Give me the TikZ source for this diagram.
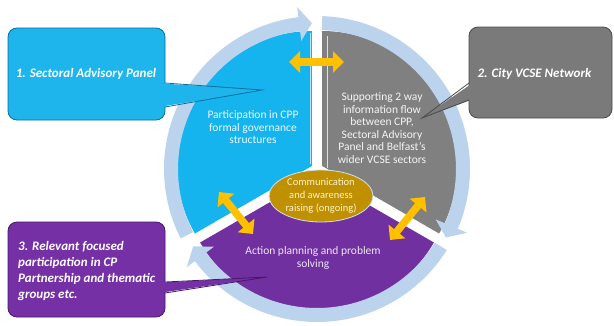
\documentclass[tikz,border=0pt]{standalone}
\usepackage{fontspec}
\setmainfont{Carlito}
\usetikzlibrary{shapes.geometric,arrows.meta}
\definecolor{ringblue}{HTML}{BCD3EE}
\definecolor{segblue}{HTML}{16B4EE}
\definecolor{seggray}{HTML}{808080}
\definecolor{segpurple}{HTML}{7030A0}
\definecolor{gold}{HTML}{BF9000}
\definecolor{yel}{HTML}{FFC000}
\definecolor{cream}{HTML}{FFF2CC}
\definecolor{cblue}{HTML}{1DB5EC}
\definecolor{cblueb}{HTML}{0C6E9C}
\definecolor{cgray}{HTML}{7A7A7A}
\definecolor{cgrayb}{HTML}{4A4A4A}
\definecolor{cpurp}{HTML}{7530A5}
\definecolor{cpurpb}{HTML}{45186A}
\newcommand\myringarrow[3]{%
  \fill[ringblue] plot[domain=#1:#2,samples=60] ({317+153*cos(\x)},{169-153*sin(\x)})
    -- ({317+163*cos(#2)},{169-163*sin(#2)})
    -- ({317+146*cos(#3)},{169-146*sin(#3)})
    -- ({317+129*cos(#2)},{169-129*sin(#2)})
    -- plot[domain=#2:#1,samples=60] ({317+139*cos(\x)},{169-139*sin(\x)}) -- cycle;}
\begin{document}
\begin{tikzpicture}[x=1pt,y=-1pt,
  segtext/.style={align=center,font=\fontsize{11.5}{12.5}\selectfont,inner sep=0pt},
  callbox/.style={rounded corners=9pt,line width=0.8pt,inner sep=0pt},
  calltext/.style={text=white,font=\fontsize{13}{16}\selectfont\bfseries\itshape,inner sep=0pt},
  yarrow/.style={draw=yel,line width=7.5pt,{Triangle[width=21pt,length=11pt]}-{Triangle[width=21pt,length=11pt]}}]
\useasboundingbox (0,0) rectangle (614,325);
% pie segments
\fill[segblue] (311.8,166) -- plot[domain=90:210,samples=80] ({311.8+135*cos(\x)},{166-135*sin(\x)}) -- cycle;
\fill[seggray] (322.2,166) -- plot[domain=-30:90,samples=80] ({322.2+135*cos(\x)},{166-135*sin(\x)}) -- cycle;
\fill[segpurple] (317,175) -- plot[domain=210:330,samples=80] ({317+135*cos(\x)},{175-135*sin(\x)}) -- cycle;
\draw[white!75!seggray,line width=0.9pt] (327.5,36) -- (327.5,168);
\draw[cyan!30!white,line width=1.2pt] (310.6,33) -- (310.6,164);
% ring arrows
\myringarrow{207}{97}{92}
\myringarrow{88}{-23}{-28}
\myringarrow{-32}{-143}{-148}
% segment texts
\node[segtext,text=white!92!cyan] (tblue) at (253,127.5) {Participation in CPP\\formal governance\\structures};
\node[segtext,text=white!92!gray] (tgray) at (382,128) {Supporting 2 way\\information flow\\between CPP,\\Sectoral Advisory\\Panel and Belfast’s\\wider VCSE sectors};
\node[segtext,text=white!88!segpurple] (tpurp) at (313,258) {Action planning and problem\\solving};
% centre ellipse
\node[ellipse,fill=gold,draw=ringblue!70!white,line width=0.8pt,minimum width=104pt,minimum height=52pt,inner sep=0pt,align=center,text=cream,font=\fontsize{10.5}{13}\selectfont] (comm) at (321,196) {Communication\\and awareness\\raising (ongoing)};
% yellow double arrows
\coordinate (ya1) at (289,62);
\coordinate (ya2) at (344,62);
\coordinate (yb1) at (219,192);
\coordinate (yb2) at (253,234);
\coordinate (yc1) at (425,197);
\coordinate (yc2) at (390,240);
\draw[yarrow] (ya1) -- (ya2);
\draw[yarrow] (yb1) -- (yb2);
\draw[yarrow] (yc1) -- (yc2);
% callout 1
\node[callbox,fill=cblue,draw=cblueb,minimum width=157pt,minimum height=92pt] (c1) at (86.5,74) {};
\node[calltext] (c1t) at (86,74) {1. Sectoral Advisory Panel};
\coordinate (p1) at (262,90);
\fill[cblue] (162,83.5) -- (p1) -- (162,106.5) -- cycle;
\draw[cblueb,line width=0.8pt] (165,83) -- (p1) -- (165,107);
% callout 2
\node[callbox,fill=cgray,draw=cgrayb,minimum width=143pt,minimum height=91pt] (c2) at (540.5,72.5) {};
\node[calltext] (c2t) at (534.5,74) {2. City VCSE Network};
\coordinate (p2) at (422,118);
\fill[cgray] (472,83.5) -- (p2) -- (472,99.5) -- cycle;
\draw[cgrayb,line width=0.8pt] (469,83) -- (p2) -- (469,100);
% callout 3
\node[callbox,fill=cpurp,draw=cpurpb,minimum width=157pt,minimum height=95pt] (c3) at (86.5,269.5) {};
\node[calltext,align=left,anchor=west] (c3t) at (18,271) {3. Relevant focused\\participation in CP\\Partnership and thematic\\groups etc.};
\coordinate (p3) at (267,277);
\fill[cpurp] (162,282.5) -- (p3) -- (162,292.5) -- cycle;
\draw[cpurpb,line width=0.8pt] (165,282) -- (p3) -- (165,293);
\end{tikzpicture}
\end{document}
